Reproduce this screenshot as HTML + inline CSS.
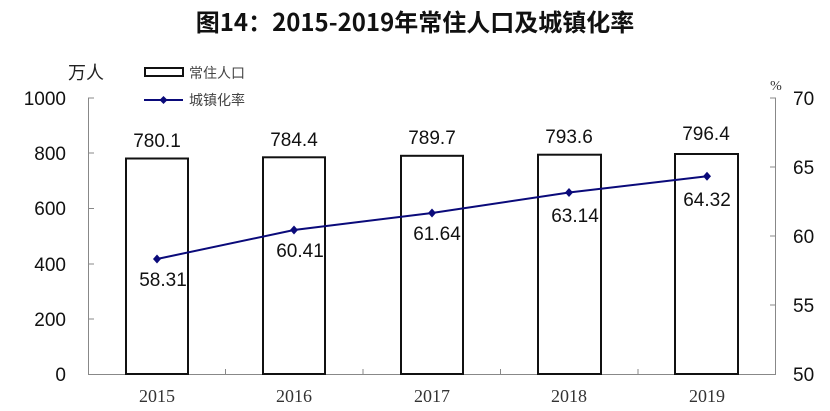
<!DOCTYPE html><html><head><meta charset="utf-8"><style>body{margin:0;background:#fff}</style></head><body>
<svg width="830" height="406" xmlns="http://www.w3.org/2000/svg" font-family="Liberation Sans, Noto Sans CJK SC, sans-serif">
<text x="415" y="31" text-anchor="middle" font-size="24" font-weight="bold" fill="#111" font-family="Noto Sans CJK SC, sans-serif">图14：2015-2019年常住人口及城镇化率</text>
<text x="86" y="79" text-anchor="middle" font-size="18" fill="#222" font-family="Noto Sans CJK SC, sans-serif">万人</text>
<rect x="145" y="68" width="38" height="8" fill="#fff" stroke="#111" stroke-width="2"/>
<text x="189" y="78" font-size="14" fill="#444" font-family="Noto Sans CJK SC, sans-serif">常住人口</text>
<line x1="144" y1="100" x2="183" y2="100" stroke="#0a0a7a" stroke-width="2"/>
<path d="M163.5 96 L167.5 100 L163.5 104 L159.5 100Z" fill="#0a0a7a"/>
<text x="189" y="105" font-size="14" fill="#444" font-family="Noto Sans CJK SC, sans-serif">城镇化率</text>
<text x="776" y="90" text-anchor="middle" font-size="14" fill="#333" font-family="Liberation Serif, serif">%</text>
<g stroke="#888" stroke-width="1">
<line x1="88.5" y1="98" x2="88.5" y2="374"/><line x1="775.5" y1="98" x2="775.5" y2="374"/><line x1="88" y1="374.5" x2="776" y2="374.5"/>
<line x1="88" y1="98" x2="94" y2="98"/><line x1="88" y1="153" x2="94" y2="153"/><line x1="88" y1="208.5" x2="94" y2="208.5"/><line x1="88" y1="264" x2="94" y2="264"/><line x1="88" y1="319" x2="94" y2="319"/>
<line x1="770" y1="98" x2="776" y2="98"/><line x1="770" y1="167" x2="776" y2="167"/><line x1="770" y1="236" x2="776" y2="236"/><line x1="770" y1="305" x2="776" y2="305"/>
<line x1="225.5" y1="369" x2="225.5" y2="374"/><line x1="363" y1="369" x2="363" y2="374"/><line x1="500.5" y1="369" x2="500.5" y2="374"/><line x1="638" y1="369" x2="638" y2="374"/>
</g>
<g font-size="19" fill="#111" text-anchor="end">
<text x="66" y="105">1000</text><text x="66" y="160">800</text><text x="66" y="215">600</text><text x="66" y="271">400</text><text x="66" y="326">200</text><text x="66" y="381">0</text>
</g>
<g font-size="19" fill="#111" text-anchor="start">
<text x="793" y="105">70</text><text x="793" y="174">65</text><text x="793" y="243">60</text><text x="793" y="312">55</text><text x="793" y="381">50</text>
</g>
<g fill="#fff" stroke="#111" stroke-width="2">
<rect x="126" y="158.5" width="62" height="215.5"/>
<rect x="263" y="157.3" width="62" height="216.7"/>
<rect x="401" y="155.8" width="62" height="218.2"/>
<rect x="538" y="154.7" width="63" height="219.3"/>
<rect x="675" y="154" width="63" height="220"/>
</g>
<g font-size="19" fill="#111" text-anchor="middle">
<text x="157" y="147">780.1</text><text x="294" y="146">784.4</text><text x="432" y="144">789.7</text><text x="569" y="143">793.6</text><text x="706" y="140">796.4</text>
</g>
<polyline points="157,259 294,230 432,213 569,192.5 707,176.3" fill="none" stroke="#0a0a7a" stroke-width="2"/>
<g fill="#0a0a7a">
<path d="M157 254.5l4 4.5-4 4.5-4-4.5z"/><path d="M294 225.5l4 4.5-4 4.5-4-4.5z"/><path d="M432 208.5l4 4.5-4 4.5-4-4.5z"/><path d="M569 188l4 4.5-4 4.5-4-4.5z"/><path d="M707 171.8l4 4.5-4 4.5-4-4.5z"/>
</g>
<g font-size="19" fill="#111" text-anchor="middle">
<text x="163" y="286">58.31</text><text x="300" y="257">60.41</text><text x="437" y="240">61.64</text><text x="575" y="222">63.14</text><text x="707" y="206">64.32</text>
</g>
<g font-size="18" fill="#333" text-anchor="middle" font-family="Liberation Serif, serif">
<text x="157" y="402">2015</text><text x="294" y="402">2016</text><text x="432" y="402">2017</text><text x="569" y="402">2018</text><text x="707" y="402">2019</text>
</g>
</svg></body></html>
